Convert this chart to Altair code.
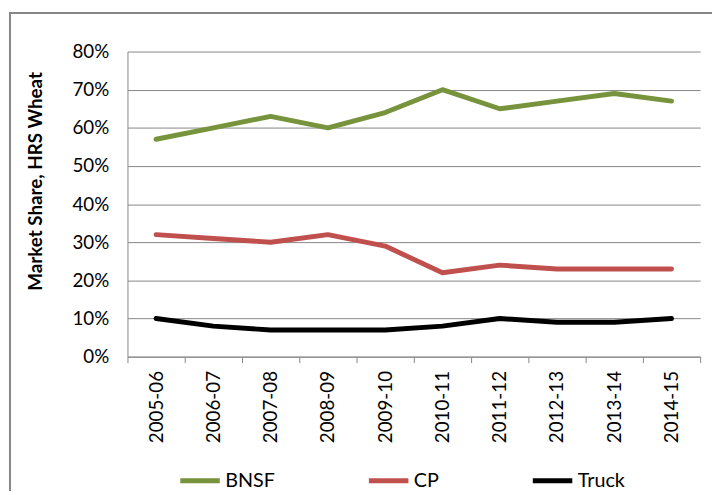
import altair as alt
import pandas as pd

# ---- data ----
years = ["2005-06", "2006-07", "2007-08", "2008-09", "2009-10",
         "2010-11", "2011-12", "2012-13", "2013-14", "2014-15"]
bnsf = [57, 60, 63, 60, 64, 70, 65, 67, 69, 67]
cp = [32, 31, 30, 32, 29, 22, 24, 23, 23, 23]
truck = [10, 8, 7, 7, 7, 8, 10, 9, 9, 10]
series = ["BNSF", "CP", "Truck"]
colors = ["#77933C", "#C0504D", "#000000"]
y_ticks = [0, 0.1, 0.2, 0.3, 0.4, 0.5, 0.6, 0.7, 0.8]

rows = []
for name, vals in zip(series, [bnsf, cp, truck]):
    for yr, v in zip(years, vals):
        rows.append({"Year": yr, "Carrier": name, "Share": v / 100})
df = pd.DataFrame(rows)

FONT = "Lato"
GRID = "#868686"

lines = alt.Chart(df).mark_line(
    strokeWidth=5, strokeCap="round", strokeJoin="round"
).encode(
    x=alt.X("Year:N", sort=years,
            scale=alt.Scale(type="band", paddingInner=0, paddingOuter=0),
            axis=alt.Axis(title=None, labelAngle=270, tickBand="extent",
                          tickSize=6, labelPadding=8, domainColor=GRID,
                          tickColor=GRID, labelFontSize=19)),
    y=alt.Y("Share:Q", scale=alt.Scale(domain=[0, 0.8]),
            axis=alt.Axis(format=".0%", values=y_ticks, title="Market Share, HRS Wheat",
                          grid=True, gridColor=GRID, gridWidth=1, ticks=False,
                          tickSize=0, labelPadding=19, domainColor=GRID,
                          labelFontSize=19, titleFontSize=19, titleFontWeight="bold",
                          titleAngle=270, titleBaseline="middle", titleAlign="center",
                          titleX=-93, titleY=131)),
    color=alt.Color("Carrier:N", sort=series,
                    scale=alt.Scale(domain=series, range=colors),
                    legend=alt.Legend(title=None, orient="none", direction="horizontal",
                                      legendX=51, legendY=412, symbolType="stroke",
                                      symbolSize=1600, symbolStrokeWidth=5,
                                      labelFontSize=20, labelOffset=3,
                                      columnPadding=84, padding=0)),
)

frame = pd.DataFrame({"k": [0]})
frame_left = alt.Chart(frame).mark_rule(color=GRID, strokeWidth=2).encode(
    x=alt.value(-119), y=alt.value(-39), y2=alt.value(445))
frame_top = alt.Chart(frame).mark_rule(color=GRID, strokeWidth=2).encode(
    x=alt.value(-120), x2=alt.value(592), y=alt.value(-39))

chart = alt.layer(frame_left, frame_top, lines).properties(
    width=580, height=309,
    padding={"left": 0, "top": 1, "right": 0, "bottom": 0},
).configure_view(stroke=None).configure_axis(
    labelFont=FONT, titleFont=FONT, labelColor="#000000", titleColor="#000000",
).configure_legend(labelFont=FONT, labelColor="#000000")

chart.save("out.html", embed_options={"renderer": "svg", "actions": False})
